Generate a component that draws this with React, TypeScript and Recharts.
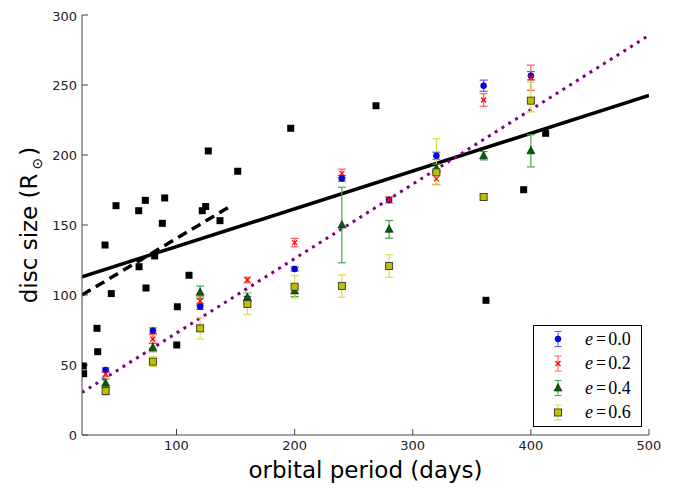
import React from 'react';
import { ComposedChart, XAxis, YAxis, Scatter, Line, ErrorBar, Legend } from 'recharts';

// observed systems (black squares)
const obsPeriod = [21.1, 21.4, 32.7, 33.3, 39.5, 44.8, 48.8, 68.0, 68.3, 73.6, 74.2, 81.5, 88.0, 90.0, 100.7, 100.2, 110.6, 121.8, 124.7, 126.9, 136.8, 151.8, 196.7, 268.9, 362.0, 393.9, 412.5];
const obsSize = [49.3, 43.8, 76.2, 59.5, 135.7, 101, 163.8, 160.2, 120.2, 167.6, 105, 127.9, 151.2, 169.3, 91.6, 64.3, 114.1, 160.2, 163.2, 202.9, 153.1, 188.4, 219.1, 235.2, 96.2, 175.2, 215.5];

// simulated discs
const modelPeriod = [40, 80, 120, 160, 200, 240, 280, 320, 360, 400];
const e00 = [46.4, 74.5, 91.7, 97, 118.6, 183.3, 167.9, 199.5, 249.5, 256.6];
const e00Err = [1.5, 2, 2, 2, 1.5, 2, 2, 2.5, 4, 3];
const e02 = [43.6, 68.6, 95.7, 110.7, 137.4, 186.9, 168, 183, 239.3, 255.2];
const e02Err = [2, 3, 3, 2, 3, 3, 2, 4, 4.5, 9];
const e04 = [36.9, 62.5, 101.9, 98.3, 102.9, 150, 146.9, 190.5, 199.5, 203];
const e04Err = [3, 3, 4.5, 3, 4, 27, 6.3, 3, 3, 11.5];
const e06 = [31.4, 52.4, 76.2, 93.6, 105.9, 106.4, 120.7, 187.6, 170, 238.8];
const e06ErrLow = [3, 3.5, 7.5, 7.5, 8, 8, 8, 9, 2, 8];
const e06ErrHigh = [3, 3.5, 7.5, 7.5, 8, 8, 8, 24, 2, 13];

// fitted lines (end points)
const fitAllX = [20, 500];
const fitAllY = [113, 242.5];
const fitShortX = [20, 146];
const fitShortY = [100, 163.6];
const fitModelX = [20, 500];
const fitModelY = [30.3, 285.5];

const xTicks = [100, 200, 300, 400, 500];
const yTicks = [0, 50, 100, 150, 200, 250, 300];
const eLabels = ['0.0', '0.2', '0.4', '0.6'];

const obsData = obsPeriod.map((x, i) => ({ x, y: obsSize[i] }));
const mk = (vals: number[], errs: (number | number[])[]) => modelPeriod.map((x, i) => ({ x, y: vals[i], err: errs[i] }));
const d00 = mk(e00, e00Err);
const d02 = mk(e02, e02Err);
const d04 = mk(e04, e04Err);
const d06 = mk(e06, e06ErrLow.map((l, i) => [l, e06ErrHigh[i]]));
const lineAll = fitAllX.map((x, i) => ({ x, y: fitAllY[i] }));
const lineShort = fitShortX.map((x, i) => ({ x, y: fitShortY[i] }));
const lineModel = fitModelX.map((x, i) => ({ x, y: fitModelY[i] }));

const COL = {
  blue: '#0000ff', blueBar: '#5a5aff',
  red: '#ff0000', redBar: '#ff5a5a',
  green: '#006400', greenBar: '#4ea04e',
  yellow: '#bfbf00', yellowBar: '#dcdc55',
};

type Kind = 'circle' | 'x' | 'tri' | 'sq';
const drawMarker = (kind: Kind, cx: number, cy: number) => {
  if (kind === 'circle') return <circle cx={cx} cy={cy} r={3} fill={COL.blue} stroke="#000033" strokeWidth={0.6} />;
  if (kind === 'x') return (
    <g stroke={COL.red} strokeWidth={1.2}>
      <line x1={cx - 2.5} y1={cy - 2.5} x2={cx + 2.5} y2={cy + 2.5} />
      <line x1={cx - 2.5} y1={cy + 2.5} x2={cx + 2.5} y2={cy - 2.5} />
    </g>
  );
  if (kind === 'tri') return <polygon points={`${cx},${cy - 4.5} ${cx - 4},${cy + 3} ${cx + 4},${cy + 3}`} fill={COL.green} stroke="#002000" strokeWidth={0.6} />;
  return <rect x={cx - 3.5} y={cy - 3.5} width={7} height={7} fill={COL.yellow} stroke="#333" strokeWidth={0.9} />;
};

const shapeOf = (kind: Kind) => (p: any) => drawMarker(kind, p.cx, p.cy);
const blackSquare = (p: any) => <rect x={p.cx - 3.5} y={p.cy - 3.5} width={7} height={7} fill="#000" />;

const legendItems: { kind: Kind; bar: string }[] = [
  { kind: 'circle', bar: COL.blueBar },
  { kind: 'x', bar: COL.redBar },
  { kind: 'tri', bar: COL.greenBar },
  { kind: 'sq', bar: COL.yellowBar },
];

const LegendBox = () => (
  <svg width={109} height={102} style={{ display: 'block' }}>
    <rect x={0.5} y={0.5} width={108} height={101} fill="#fff" stroke="#000" strokeWidth={1} />
    {legendItems.map((it, i) => {
      const cy = 14 + i * 24.5;
      return (
        <g key={i}>
          <g stroke={it.bar} strokeWidth={1}>
            <line x1={25} x2={25} y1={cy - 7.5} y2={cy + 7.5} />
            <line x1={21.5} x2={28.5} y1={cy - 7.5} y2={cy - 7.5} />
            <line x1={21.5} x2={28.5} y1={cy + 7.5} y2={cy + 7.5} />
          </g>
          {drawMarker(it.kind, 25, cy)}
          <text x={52} y={cy + 5.5} fontFamily="'Liberation Serif', serif" fontSize={18} fill="#000">
            <tspan fontStyle="italic">e</tspan>
            <tspan dx={3}>=</tspan>
            <tspan dx={2}>{eLabels[i]}</tspan>
          </text>
        </g>
      );
    })}
  </svg>
);

const XLabel = (props: any) => {
  const vb = props.viewBox;
  return (
    <text x={vb.x + vb.width / 2} y={vb.y + 43} textAnchor="middle" fontSize={23} fontFamily="'DejaVu Sans', sans-serif" fill="#000">
      orbital period (days)
    </text>
  );
};

const YLabel = (props: any) => {
  const vb = props.viewBox;
  const x = vb.x + 15;
  const y = vb.y + vb.height / 2;
  return (
    <text x={x} y={y} transform={`rotate(-90, ${x}, ${y})`} textAnchor="middle" fontSize={23} fontFamily="'DejaVu Sans', sans-serif" fill="#000">
      disc size (R<tspan fontSize={14} dx={4} dy={5}>⊙</tspan><tspan dx={2} dy={-5}>)</tspan>
    </text>
  );
};

const tickStyle = { fontSize: 13, fill: '#222', fontFamily: "'DejaVu Sans', sans-serif" };
const axisStroke = '#444';
const emptyTick = () => <g />;

export default function App() {
  return (
    <ComposedChart width={676} height={482} margin={{ top: 7, right: 35, bottom: 25, left: 14 }}>
      <XAxis xAxisId={0} dataKey="x" type="number" domain={[20, 500]} allowDataOverflow ticks={xTicks}
        tickSize={-6} tickMargin={12} tick={tickStyle} stroke={axisStroke} height={30} label={XLabel} />
      <XAxis xAxisId="top" orientation="top" dataKey="x" type="number" domain={[20, 500]} allowDataOverflow ticks={xTicks}
        tickSize={-6} tick={emptyTick} stroke={axisStroke} height={0} />
      <YAxis yAxisId={0} type="number" domain={[0, 300]} allowDataOverflow ticks={yTicks}
        tickSize={-6} tickMargin={11} tick={tickStyle} stroke={axisStroke} width={60} label={YLabel} />
      <YAxis yAxisId="right" orientation="right" type="number" domain={[0, 300]} allowDataOverflow ticks={yTicks}
        tickSize={-6} tick={emptyTick} stroke={axisStroke} width={0} />

      <Line data={lineAll} dataKey="y" stroke="#000" strokeWidth={3.5} dot={false} activeDot={false} isAnimationActive={false} type="linear" />
      <Line data={lineShort} dataKey="y" stroke="#000" strokeWidth={3.5} strokeDasharray="10 6" dot={false} activeDot={false} isAnimationActive={false} type="linear" />
      <Line data={lineModel} dataKey="y" stroke="#800080" strokeWidth={3} strokeDasharray="3 5" dot={false} activeDot={false} isAnimationActive={false} type="linear" />

      <Scatter data={obsData} dataKey="y" shape={blackSquare} isAnimationActive={false} />

      <Scatter data={d00} dataKey="y" shape={shapeOf('circle')} isAnimationActive={false}>
        <ErrorBar dataKey="err" direction="y" width={4} stroke={COL.blueBar} strokeWidth={1.2} />
      </Scatter>
      <Scatter data={d02} dataKey="y" shape={shapeOf('x')} isAnimationActive={false}>
        <ErrorBar dataKey="err" direction="y" width={4} stroke={COL.redBar} strokeWidth={1.2} />
      </Scatter>
      <Scatter data={d04} dataKey="y" shape={shapeOf('tri')} isAnimationActive={false}>
        <ErrorBar dataKey="err" direction="y" width={4} stroke={COL.greenBar} strokeWidth={1.2} />
      </Scatter>
      <Scatter data={d06} dataKey="y" shape={shapeOf('sq')} isAnimationActive={false}>
        <ErrorBar dataKey="err" direction="y" width={4} stroke={COL.yellowBar} strokeWidth={1.2} />
      </Scatter>

      <Legend layout="vertical" align="center" verticalAlign="middle" content={LegendBox}
        wrapperStyle={{ left: 525, top: 317, width: 109, height: 102 }} />
    </ComposedChart>
  );
}
